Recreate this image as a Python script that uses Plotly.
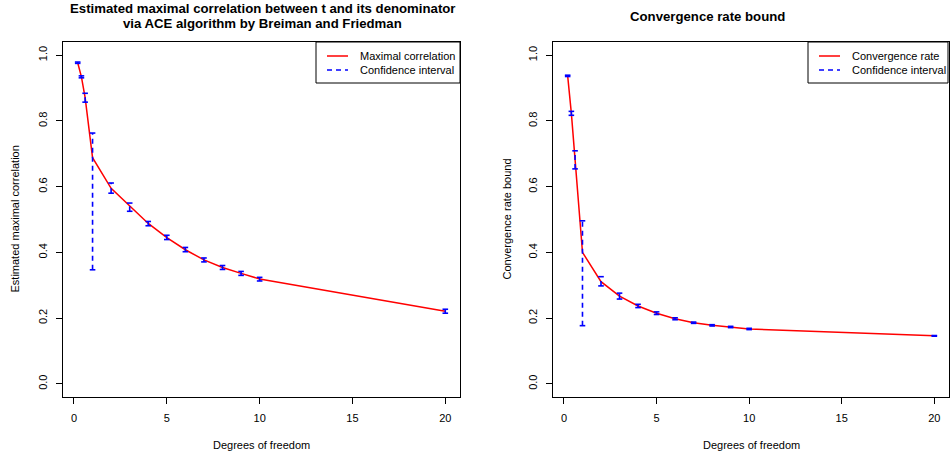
import plotly.graph_objects as go

# ---------------- data ----------------
df_values = [0.2, 0.4, 0.6, 1, 2, 3, 4, 5, 6, 7, 8, 9, 10, 20]

max_corr = [0.977, 0.934, 0.871, 0.688, 0.595, 0.540, 0.488, 0.445, 0.408, 0.377, 0.354, 0.336, 0.319, 0.221]
max_corr_lo = [0.975, 0.931, 0.857, 0.347, 0.580, 0.525, 0.481, 0.439, 0.402, 0.371, 0.348, 0.330, 0.313, 0.215]
max_corr_hi = [0.979, 0.937, 0.884, 0.763, 0.611, 0.550, 0.494, 0.452, 0.415, 0.383, 0.360, 0.342, 0.324, 0.227]

conv_rate = [0.937, 0.823, 0.682, 0.400, 0.311, 0.267, 0.237, 0.215, 0.198, 0.186, 0.178, 0.173, 0.167, 0.146]
conv_rate_lo = [0.935, 0.817, 0.654, 0.177, 0.298, 0.258, 0.232, 0.211, 0.195, 0.184, 0.176, 0.171, 0.165, 0.145]
conv_rate_hi = [0.939, 0.829, 0.709, 0.496, 0.326, 0.276, 0.242, 0.219, 0.201, 0.188, 0.180, 0.175, 0.169, 0.147]

x_ticks = [0, 5, 10, 15, 20]
y_ticks = [0.0, 0.2, 0.4, 0.6, 0.8, 1.0]
y_tick_labels = ["0.0", "0.2", "0.4", "0.6", "0.8", "1.0"]

titles_left = ["Estimated maximal correlation between t and its denominator",
               "via ACE algorithm by Breiman and Friedman"]
title_right = "Convergence rate bound"
xlabel = "Degrees of freedom"
ylabel_left = "Estimated maximal correlation"
ylabel_right = "Convergence rate bound"
legend_left = ["Maximal correlation", "Confidence interval"]
legend_right = ["Convergence rate", "Confidence interval"]

# ---------------- layout helpers ----------------
W, H = 950, 454
FONT = "Liberation Sans, Arial, Helvetica, sans-serif"
RED = "#FF0000"
BLUE = "#0000FF"


def px(x):
    return x / W


def py(y):
    return 1 - y / H


x_range = [0.2 - 0.04 * (20 - 0.2), 20 + 0.04 * (20 - 0.2)]
y_range = [-0.04, 1.04]

fig = go.Figure()


def add_panel(xa, ya, y, lo, hi, name):
    # main line
    fig.add_trace(go.Scatter(x=df_values, y=y, mode="lines", xaxis=xa, yaxis=ya,
                             line=dict(color=RED, width=1.5), name=name, showlegend=False))
    # CI vertical dashed segments
    sx, sy = [], []
    for xi, l, h in zip(df_values, lo, hi):
        sx += [xi, xi, None]
        sy += [l, h, None]
    fig.add_trace(go.Scatter(x=sx, y=sy, mode="lines", xaxis=xa, yaxis=ya,
                             line=dict(color=BLUE, width=1.6, dash="5px,4px"),
                             showlegend=False, connectgaps=False))
    # caps
    cx = df_values + df_values
    cy = list(lo) + list(hi)
    fig.add_trace(go.Scatter(x=cx, y=cy, mode="markers", xaxis=xa, yaxis=ya,
                             marker=dict(symbol="line-ew", size=4,
                                         line=dict(color=BLUE, width=1.6)),
                             showlegend=False))


add_panel("x", "y", max_corr, max_corr_lo, max_corr_hi, "Maximal correlation")
add_panel("x2", "y2", conv_rate, conv_rate_lo, conv_rate_hi, "Convergence rate")

axis_common = dict(showgrid=False, zeroline=False, showline=True, mirror=True,
                   linecolor="black", linewidth=1, ticks="outside", ticklen=6,
                   tickwidth=1, tickcolor="black",
                   tickfont=dict(family=FONT, size=11, color="black"))

panel_top, panel_bottom = 42, 397
left_x0, left_x1 = 63, 460
right_x0, right_x1 = 553, 949

fig.update_layout(
    width=W, height=H, margin=dict(l=0, r=0, t=0, b=0),
    paper_bgcolor="white", plot_bgcolor="white", showlegend=False,
    xaxis=dict(domain=[px(left_x0), px(left_x1)], range=x_range, tickvals=x_ticks,
               anchor="y", ticklabelstandoff=5, **axis_common),
    yaxis=dict(domain=[py(panel_bottom), py(panel_top)], range=y_range, tickvals=y_ticks,
               ticktext=y_tick_labels, tickangle=-90, anchor="x", ticklabelstandoff=5,
               **axis_common),
    xaxis2=dict(domain=[px(right_x0), px(right_x1)], range=x_range, tickvals=x_ticks,
                anchor="y2", ticklabelstandoff=5, **axis_common),
    yaxis2=dict(domain=[py(panel_bottom), py(panel_top)], range=y_range, tickvals=y_ticks,
                ticktext=y_tick_labels, tickangle=-90, anchor="x2", ticklabelstandoff=5,
                **axis_common),
)

ann = []
# titles
ann.append(dict(x=px(262), y=py(8), text="<b>" + titles_left[0] + "</b>"))
ann.append(dict(x=px(262), y=py(24), text="<b>" + titles_left[1] + "</b>"))
ann.append(dict(x=px(707), y=py(16), text="<b>" + title_right + "</b>"))
for a in ann:
    a.update(xref="paper", yref="paper", showarrow=False, xanchor="center", yanchor="middle",
             font=dict(family=FONT, size=13.2, color="black"))

labels = [
    dict(x=px((left_x0 + left_x1) / 2), y=py(445), text=xlabel),
    dict(x=px((right_x0 + right_x1) / 2), y=py(445), text=xlabel),
    dict(x=px(14), y=py((panel_top + panel_bottom) / 2), text=ylabel_left, textangle=-90),
    dict(x=px(506), y=py((panel_top + panel_bottom) / 2), text=ylabel_right, textangle=-90),
]
for a in labels:
    a.update(xref="paper", yref="paper", showarrow=False, xanchor="center", yanchor="middle",
             font=dict(family=FONT, size=11, color="black"))
ann += labels

shapes = []


def add_legend(x0, x1, entries):
    y0, y1 = panel_top, 83
    shapes.append(dict(type="rect", xref="paper", yref="paper",
                       x0=px(x0), x1=px(x1), y0=py(y1), y1=py(y0),
                       line=dict(color="black", width=1), fillcolor="white"))
    rows = [56, 70]
    styles = [dict(color=RED, width=1.5), dict(color=BLUE, width=1.6, dash="5px,4px")]
    for r, st, txt in zip(rows, styles, entries):
        shapes.append(dict(type="line", xref="paper", yref="paper",
                           x0=px(x0 + 11), x1=px(x0 + 32), y0=py(r), y1=py(r), line=st))
        ann.append(dict(xref="paper", yref="paper", x=px(x0 + 42), y=py(r), text=txt,
                        showarrow=False, xanchor="left", yanchor="middle",
                        font=dict(family=FONT, size=11, color="black")))


add_legend(316, left_x1, legend_left)
add_legend(808, 948, legend_right)

fig.update_layout(annotations=ann, shapes=shapes)

fig.write_html("out.html")
